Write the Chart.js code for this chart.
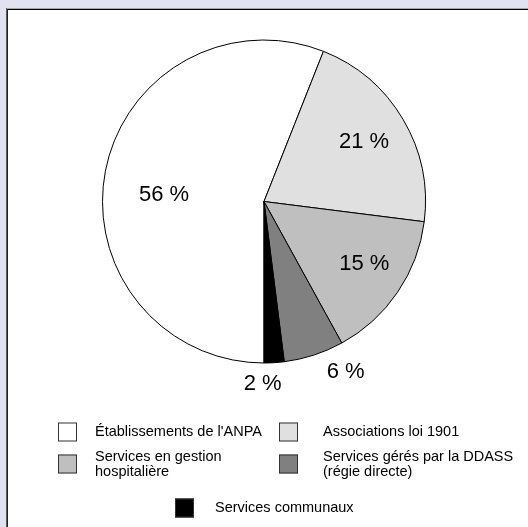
<!DOCTYPE html>
<html>
<head>
<meta charset="utf-8">
<script src="https://cdn.jsdelivr.net/npm/chart.js@4/dist/chart.umd.min.js"></script>
<style>
  html, body { margin: 0; padding: 0; background: #e1e1ef; }
  #wrap { width: 528px; height: 527px; position: relative; }
  canvas { display: block; }
</style>
</head>
<body>
<div id="wrap"><canvas id="c" width="528" height="527"></canvas></div>
<script>
// Répartition des services par type de gestionnaire (en %)
const categories = [
  "Établissements de l'ANPA",
  "Associations loi 1901",
  ["Services en gestion", "hospitalière"],
  ["Services gérés par la DDASS", "(régie directe)"],
  "Services communaux"
];
const shares = [56, 21, 15, 6, 2];
const valueLabels = ["56 %", "21 %", "15 %", "6 %", "2 %"];

const fills = ["#ffffff", "#e0e0e0", "#bfbfbf", "#808080", "#000000"];
// label placement: fraction of radius from centre, angular shift (degrees)
const labelPlace = [[0.62, -7], [0.72, 0], [0.73, -2.5], [1.17, -7.6], [1.13, 4]];
// legend layout: swatch x, text x, row centre y
const legendSlots = [[58, 95, 432], [279, 323, 432], [58, 95, 464], [279, 323, 464], [175, 215, 508]];

const FONT = "'Liberation Sans', Arial, sans-serif";

const panel = {
  id: 'panel',
  beforeDraw(chart) {
    const ctx = chart.ctx;
    const W = chart.width, H = chart.height;
    ctx.save();
    ctx.fillStyle = '#e1e1ef';
    ctx.fillRect(0, 0, W, H);
    ctx.fillStyle = '#ffffff';
    ctx.fillRect(6, 8, W - 6, H - 8);
    ctx.fillStyle = '#a4a4b4';
    ctx.fillRect(6, 8, W - 6, 1);
    ctx.fillStyle = '#000000';
    ctx.fillRect(7, 9, W - 7, 1);
    ctx.fillStyle = '#5a5a5a';
    ctx.fillRect(6, 8, 1, H - 8);
    ctx.fillStyle = '#222222';
    ctx.fillRect(7, 9, 1, H - 9);
    ctx.restore();
  }
};

const sliceLabels = {
  id: 'sliceLabels',
  afterDatasetsDraw(chart) {
    const ctx = chart.ctx;
    const meta = chart.getDatasetMeta(0);
    ctx.save();
    ctx.font = '22px ' + FONT;
    ctx.fillStyle = '#000';
    ctx.textAlign = 'center';
    ctx.textBaseline = 'middle';
    meta.data.forEach((arc, i) => {
      const p = arc.getProps(['x', 'y', 'startAngle', 'endAngle', 'outerRadius'], true);
      const mid = (p.startAngle + p.endAngle) / 2 + labelPlace[i][1] * Math.PI / 180;
      const d = p.outerRadius * labelPlace[i][0];
      ctx.fillText(valueLabels[i], p.x + Math.cos(mid) * d, p.y + Math.sin(mid) * d);
    });
    ctx.restore();
  }
};

const boxLegend = {
  id: 'boxLegend',
  afterDraw(chart) {
    const ctx = chart.ctx;
    const ds = chart.data.datasets[0];
    ctx.save();
    ctx.font = '14.5px ' + FONT;
    ctx.textBaseline = 'middle';
    ctx.textAlign = 'left';
    chart.data.labels.forEach((lab, i) => {
      const [x, tx, cy] = legendSlots[i];
      const s = 19;
      ctx.fillStyle = ds.backgroundColor[i];
      ctx.fillRect(x, cy - s / 2, s, s);
      ctx.strokeStyle = '#333';
      ctx.lineWidth = 1;
      ctx.strokeRect(x + 0.5, cy - s / 2 + 0.5, s - 1, s - 1);
      ctx.fillStyle = '#000';
      const lines = Array.isArray(lab) ? lab : [lab];
      const lh = 15;
      lines.forEach((t, k) => {
        ctx.fillText(t, tx, cy + (k - (lines.length - 1) / 2) * lh);
      });
    });
    ctx.restore();
  }
};

new Chart(document.getElementById('c'), {
  type: 'pie',
  data: {
    labels: categories,
    datasets: [{
      data: shares,
      backgroundColor: fills,
      borderColor: '#000',
      borderWidth: 1,
      borderAlign: 'center'
    }]
  },
  options: {
    responsive: false,
    animation: false,
    rotation: 180,
    layout: { padding: { top: 39.5, bottom: 163.5, left: 0, right: 0 } },
    plugins: {
      legend: { display: false },
      tooltip: { enabled: false }
    }
  },
  plugins: [panel, sliceLabels, boxLegend]
});
</script>
</body>
</html>
